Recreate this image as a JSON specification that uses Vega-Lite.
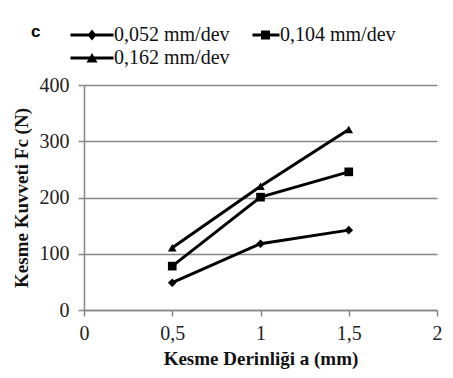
{
  "$schema": "https://vega.github.io/schema/vega-lite/v6.json",
  "width": 353,
  "height": 225,
  "autosize": {"type": "none"},
  "padding": {"left": 84, "top": 85, "right": 16, "bottom": 68},
  "background": "white",
  "title": {
    "text": "c",
    "anchor": "start",
    "frame": "group",
    "font": "Liberation Sans",
    "fontWeight": "bold",
    "fontSize": 17,
    "color": "black",
    "dx": -53,
    "dy": 20
  },
  "config": {
    "view": {"stroke": null},
    "axis": {
      "labelFont": "Liberation Serif",
      "labelFontSize": 20,
      "labelColor": "#222222",
      "titleFont": "Liberation Serif",
      "titleFontWeight": "bold",
      "titleFontSize": 19,
      "titleColor": "#111111",
      "domainColor": "#878787",
      "domainWidth": 1.5,
      "tickColor": "#878787",
      "tickWidth": 1.5,
      "tickSize": 6,
      "gridColor": "#878787",
      "gridWidth": 1.5
    }
  },
  "data": {
    "values": [
      {"a": 0.5, "F": 48.5, "s": "0,052 mm/dev"},
      {"a": 1.0, "F": 117.8, "s": "0,052 mm/dev"},
      {"a": 1.5, "F": 142, "s": "0,052 mm/dev"},
      {"a": 0.5, "F": 78, "s": "0,104 mm/dev"},
      {"a": 1.0, "F": 200.6, "s": "0,104 mm/dev"},
      {"a": 1.5, "F": 245.6, "s": "0,104 mm/dev"},
      {"a": 0.5, "F": 110.6, "s": "0,162 mm/dev"},
      {"a": 1.0, "F": 220, "s": "0,162 mm/dev"},
      {"a": 1.5, "F": 320.7, "s": "0,162 mm/dev"}
    ]
  },
  "encoding": {
    "x": {
      "field": "a",
      "type": "quantitative",
      "scale": {"domain": [0, 2], "nice": false, "zero": false},
      "axis": {
        "title": "Kesme Derinliği  a (mm)",
        "values": [0, 0.5, 1, 1.5, 2],
        "grid": false,
        "labelExpr": "replace(toString(datum.value), '.', ',')",
        "labelPadding": 7,
        "titlePadding": 6,
        "labelFlush": false
      }
    },
    "y": {
      "field": "F",
      "type": "quantitative",
      "scale": {"domain": [0, 400], "nice": false},
      "axis": {
        "title": "Kesme Kuvveti Fc (N)",
        "values": [0, 100, 200, 300, 400],
        "grid": true,
        "labelPadding": 9,
        "titlePadding": 8
      }
    }
  },
  "layer": [
    {
      "mark": {"type": "line", "color": "black", "strokeWidth": 3},
      "encoding": {"detail": {"field": "s", "type": "nominal"}}
    },
    {
      "mark": {"type": "point", "filled": true, "color": "black", "opacity": 1, "size": 75},
      "encoding": {
        "shape": {
          "field": "s",
          "type": "nominal",
          "scale": {"domain": ["0,052 mm/dev", "0,104 mm/dev", "0,162 mm/dev"], "range": ["diamond", "square", "triangle-up"]},
          "legend": null
        }
      }
    },
    {
      "mark": {"type": "point", "filled": true, "color": "black", "opacity": 0},
      "encoding": {
        "shape": {
          "field": "s",
          "type": "nominal",
          "scale": {
            "domain": ["0,052 mm/dev", "0,104 mm/dev", "0,162 mm/dev"],
            "range": [
              "M-2.15,-0.15H2.15V0.15H-2.15Z M0,-0.55L0.45,0L0,0.55L-0.45,0Z",
              "M-0.55,-0.15H2.15V0.15H-0.55Z M0.3,-0.45H1.2V0.45H0.3Z",
              "M-2.15,-0.15H2.15V0.15H-2.15Z M0,-0.5L0.55,0.45L-0.55,0.45Z"
            ]
          },
          "legend": {
            "title": null,
            "orient": "none",
            "legendX": -2,
            "legendY": -60,
            "columns": 2,
            "direction": "horizontal",
            "symbolSize": 400,
            "symbolOpacity": 1,
            "symbolFillColor": "black",
            "symbolStrokeWidth": 0,
            "labelFont": "Liberation Serif",
            "labelFontSize": 20,
            "labelColor": "#111111",
            "labelOffset": 12,
            "columnPadding": 18,
            "rowPadding": 3
          }
        }
      }
    }
  ],
  "resolve": {"scale": {"shape": "independent"}, "legend": {"shape": "independent"}}
}
